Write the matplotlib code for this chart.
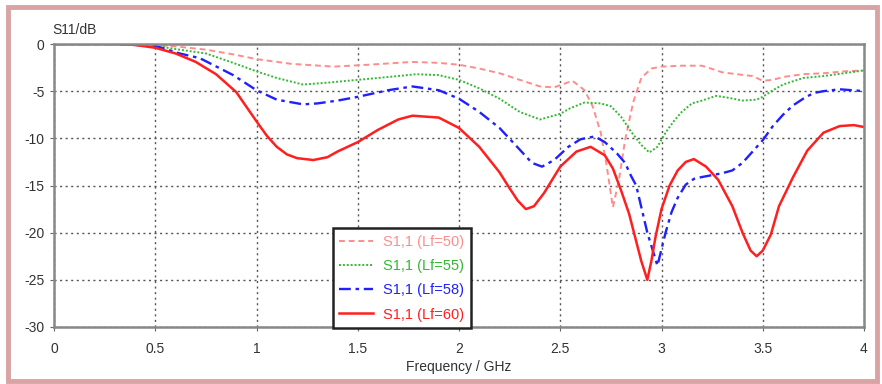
import matplotlib
matplotlib.use("Agg")
import matplotlib.pyplot as plt
from matplotlib.patches import Rectangle

# frequency (GHz) and S11 (dB)
f50 = [0, 0.3, 0.5, 0.62, 0.75, 0.885, 1.0, 1.17, 1.38, 1.55, 1.77, 1.9, 2.0, 2.1, 2.2,
       2.3, 2.4, 2.47, 2.56, 2.62, 2.66, 2.7, 2.73, 2.76, 2.79, 2.82, 2.86, 2.9, 2.95,
       3.0, 3.1, 3.2, 3.3, 3.37, 3.45, 3.5, 3.55, 3.6, 3.7, 3.8, 3.9, 4.0]
s50 = [0, 0, -0.1, -0.3, -0.6, -1.1, -1.6, -2.1, -2.4, -2.2, -1.9, -2.0, -2.2, -2.6, -3.1,
       -3.8, -4.5, -4.6, -3.9, -4.9, -6.6, -9.4, -13.0, -17.3, -14.4, -10.2, -6.2, -3.6, -2.6,
       -2.4, -2.3, -2.3, -3.0, -3.2, -3.4, -3.9, -3.8, -3.5, -3.2, -3.1, -2.9, -2.8]

f55 = [0, 0.3, 0.5, 0.62, 0.75, 0.885, 1.0, 1.1, 1.23, 1.35, 1.5, 1.65, 1.79, 1.9, 2.0,
       2.1, 2.2, 2.3, 2.4, 2.5, 2.55, 2.62, 2.7, 2.75, 2.8, 2.85, 2.9, 2.94, 2.98,
       3.02, 3.06, 3.1, 3.15, 3.2, 3.27, 3.33, 3.4, 3.47, 3.5, 3.55, 3.6, 3.7, 3.8,
       3.9, 4.0]
s55 = [0, 0, -0.2, -0.6, -1.0, -2.0, -2.9, -3.6, -4.3, -4.1, -3.8, -3.5, -3.2, -3.3, -3.8,
       -4.7, -5.8, -7.2, -8.0, -7.4, -6.8, -6.2, -6.3, -6.6, -7.7, -9.3, -10.7, -11.5, -10.9,
       -9.4, -8.2, -7.2, -6.3, -6.0, -5.5, -5.7, -6.0, -5.9, -5.6, -4.9, -4.3, -3.6, -3.4,
       -3.1, -2.8]

f58 = [0, 0.3, 0.5, 0.62, 0.72, 0.885, 1.0, 1.1, 1.23, 1.3, 1.4, 1.5, 1.65, 1.77, 1.9,
       2.0, 2.1, 2.2, 2.3, 2.36, 2.41, 2.47, 2.54, 2.6, 2.67, 2.72, 2.78, 2.82, 2.85,
       2.875, 2.93, 2.98, 3.02, 3.05, 3.08, 3.12, 3.16, 3.2, 3.3, 3.35, 3.4, 3.45, 3.5,
       3.55, 3.6, 3.65, 3.7, 3.75, 3.8, 3.88, 4.0]
s58 = [0, 0, -0.2, -1.0, -1.5, -3.3, -4.9, -5.9, -6.4, -6.3, -6.0, -5.6, -4.9, -4.5, -4.9,
       -5.8, -7.2, -8.9, -11.2, -12.6, -13.0, -12.3, -10.9, -10.1, -9.8, -10.4, -11.6, -12.6, -14.0,
       -15.0, -20.0, -23.5, -20.0, -17.8, -16.3, -14.9, -14.3, -14.1, -13.7, -13.4, -12.6, -11.4, -10.2,
       -8.7, -7.5, -6.5, -5.8, -5.2, -5.0, -4.8, -5.0]

f60 = [0, 0.3, 0.4, 0.5, 0.6, 0.7, 0.8, 0.9, 1.0, 1.05, 1.1, 1.15, 1.2, 1.28, 1.35, 1.4,
       1.5, 1.6, 1.7, 1.77, 1.9, 2.0, 2.1, 2.2, 2.25, 2.29, 2.33, 2.37, 2.42, 2.5,
       2.58, 2.65, 2.72, 2.76, 2.8, 2.84, 2.87, 2.9, 2.93, 2.95, 2.97, 3.0, 3.04, 3.08,
       3.12, 3.16, 3.22, 3.28, 3.35, 3.4, 3.44, 3.47, 3.5, 3.54, 3.58, 3.65, 3.72, 3.8,
       3.88, 3.95, 4.0]
s60 = [0, 0, -0.1, -0.4, -1.0, -1.9, -3.2, -5.1, -8.2, -9.7, -10.9, -11.7, -12.1, -12.3, -12.0, -11.4,
       -10.4, -9.1, -8.0, -7.6, -7.8, -8.9, -10.9, -13.6, -15.3, -16.6, -17.5, -17.2, -15.8, -13.0,
       -11.4, -10.9, -11.8, -13.2, -15.5, -18.0, -20.5, -23.0, -25.0, -23.0, -20.5, -17.5, -15.0, -13.4,
       -12.5, -12.2, -13.0, -14.4, -17.2, -20.0, -21.9, -22.5, -21.9, -20.2, -17.2, -14.1, -11.3, -9.4,
       -8.7, -8.6, -8.8]

labels = ["S1,1 (Lf=50)", "S1,1 (Lf=55)", "S1,1 (Lf=58)", "S1,1 (Lf=60)"]
colors = ["#ff8c8c", "#33b833", "#2020ff", "#ff1f1f"]

plt.rcParams['font.family'] = ['Liberation Sans', 'DejaVu Sans']
plt.rcParams['axes.unicode_minus'] = False

fig = plt.figure(figsize=(8.82, 3.84), dpi=100)
ax = fig.add_axes([54 / 882, 1 - 327 / 384, 810 / 882, 283 / 384])

ax.plot(f50, s50, color=colors[0], lw=1.4, ls=(0, (3, 2)), label=labels[0])
ax.plot(f55, s55, color=colors[1], lw=1.4, ls=(0, (1, 1)), label=labels[1])
ax.plot(f58, s58, color=colors[2], lw=1.7, ls=(0, (5, 2, 1.5, 2)), label=labels[2])
ax.plot(f60, s60, color=colors[3], lw=1.8, ls='-', label=labels[3])

ax.set_xlim(0, 4)
ax.set_ylim(-30, 0)
ax.set_xticks([0, 0.5, 1, 1.5, 2, 2.5, 3, 3.5, 4])
ax.set_xticklabels(["0", "0.5", "1", "1.5", "2", "2.5", "3", "3.5", "4"])
ax.set_yticks([0, -5, -10, -15, -20, -25, -30])
ax.tick_params(labelsize=10, length=3, color='#666666', labelcolor='#333333')
ax.tick_params(axis='x', pad=8)
ax.tick_params(axis='y', pad=4)
ax.grid(True, color='#555555', ls=(0, (1.5, 2.5)), lw=1.0)
for sp in ax.spines.values():
    sp.set_color('#888888')
    sp.set_linewidth(1.8)

ax.set_xlabel("Frequency / GHz", fontsize=10, color='#333333', labelpad=3)
fig.text(52 / 882, 1 - 30 / 384, "S11/dB", fontsize=10, color='#333333', va='center')

leg = ax.legend(loc='lower left', bbox_to_anchor=(0.344, -0.004), fontsize=10.5,
                fancybox=False, framealpha=1, edgecolor='#222222', borderpad=0.45,
                handlelength=2.3, labelspacing=0.7, handletextpad=0.7, borderaxespad=0)
leg.get_frame().set_linewidth(1.8)
for txt, c in zip(leg.get_texts(), colors):
    txt.set_color(c)

fig.patches.append(Rectangle((7.5 / 882, 3.5 / 384), 869 / 882, 374 / 384, transform=fig.transFigure,
                             fill=False, edgecolor='#d9a3a3', lw=3.5))

fig.savefig("out.png", dpi=100)
